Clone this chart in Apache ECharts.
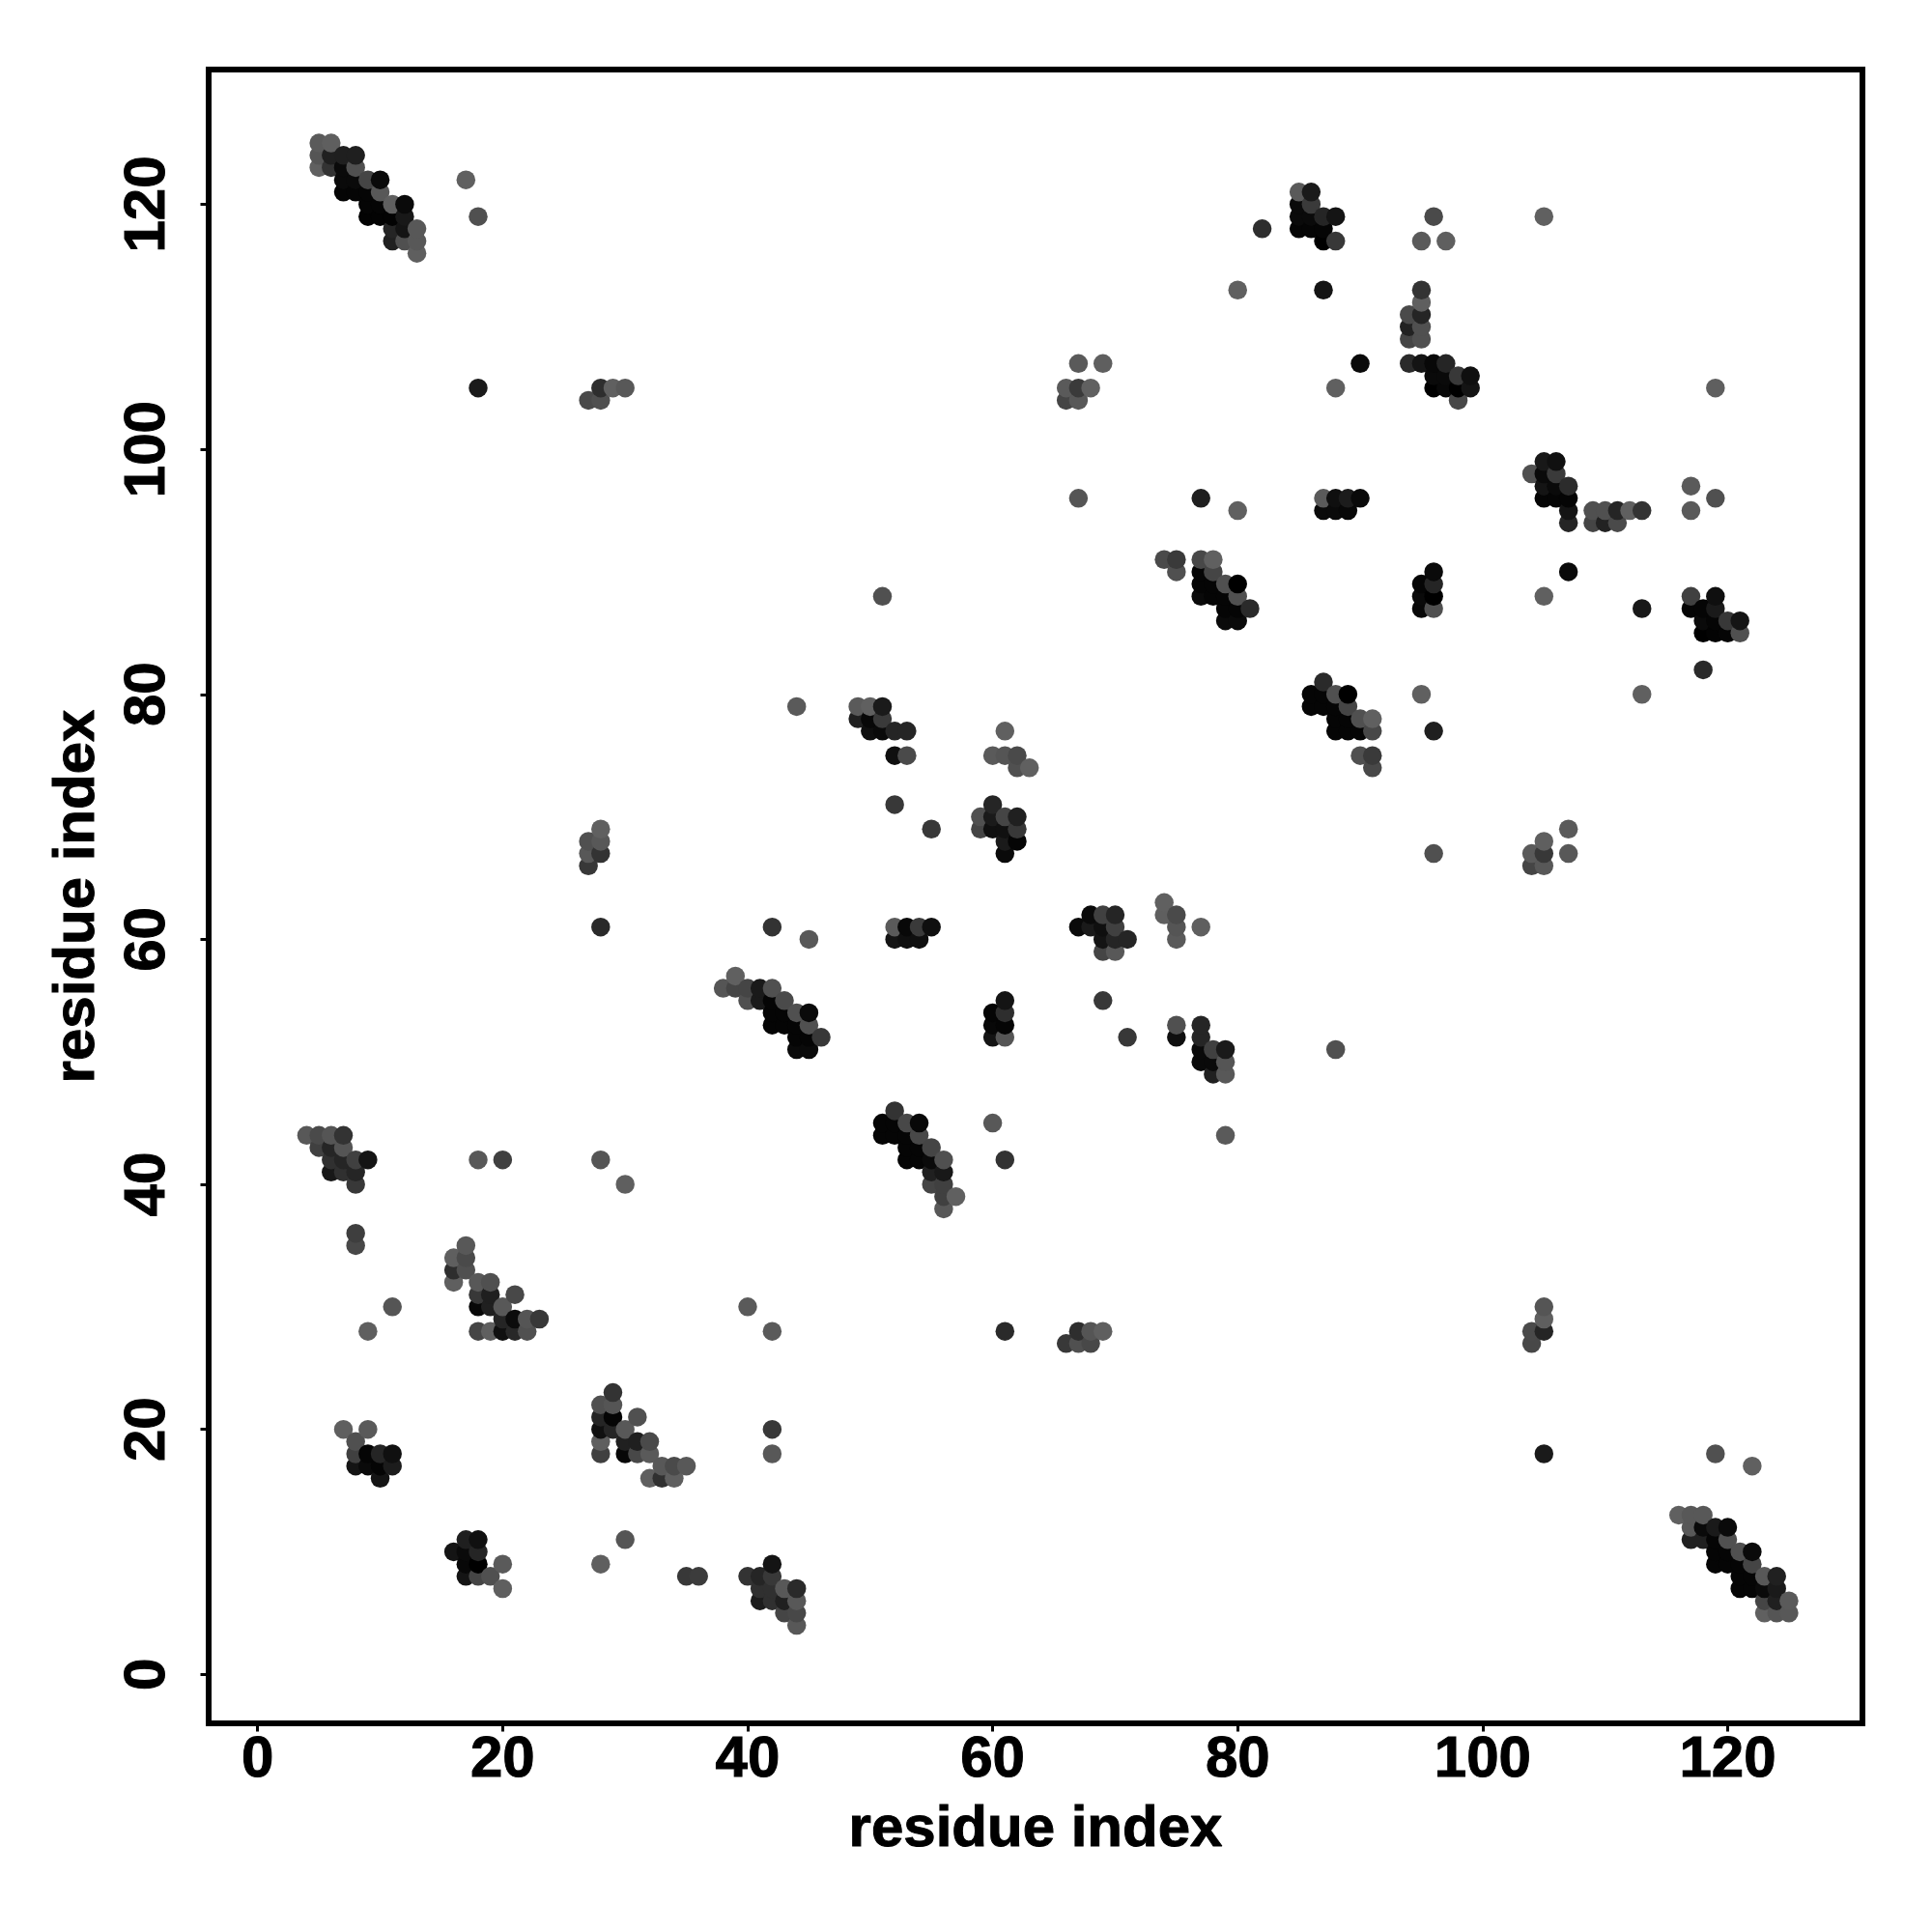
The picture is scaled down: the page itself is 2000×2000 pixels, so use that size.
<!DOCTYPE html>
<html><head><meta charset="utf-8">
<style>html,body{margin:0;padding:0;background:#fff}#c{width:2000px;height:2000px}</style>
<script src="https://cdn.jsdelivr.net/npm/echarts@6/dist/echarts.min.js"></script>
</head><body><div id="c"></div>
<script>
// Each contact: [residue x, residue y, contact strength 0..102]
const tickValues = [0,20,40,60,80,100,120];
const axisTitle = 'residue index';
const helixA = [[5,125,12],[6,125,7],[5,124,17],[6,124,70],[7,124,71],[8,124,71],[5,123,6],[6,123,51],[7,123,92],[8,123,22],[7,122,92],[8,122,92],[9,122,33],[10,122,92],[7,121,97],[8,121,97],[9,121,97],[10,121,14],[9,120,97],[10,120,97],[11,120,7],[12,120,92],[9,119,99],[10,119,99],[11,119,99],[12,119,78],[11,118,65],[12,118,82],[13,118,14],[11,117,70],[12,117,22],[13,117,14],[13,116,7]];
const helixAMirror = [[116,13,6],[117,13,14],[118,13,14],[117,12,14],[118,12,92],[119,12,76],[120,12,92],[117,11,70],[118,11,70],[119,11,97],[120,11,22],[119,10,97],[120,10,97],[121,10,22],[122,10,92],[119,9,97],[120,9,97],[121,9,97],[122,9,33],[121,8,97],[122,8,97],[123,8,14],[124,8,70],[121,7,97],[122,7,97],[123,7,92],[124,7,76],[123,6,33],[124,6,70],[125,6,12],[123,5,6],[124,5,17],[125,5,14]];
const upperLeftSingles = [[17,122,6],[18,119,22],[18,105,76],[28,105,56],[29,105,6],[30,105,14],[27,104,28],[28,104,22]];
const upperMiddle = [[67,107,12],[69,107,7],[66,105,12],[67,105,44],[68,105,6],[66,104,33],[67,104,14],[67,96,17],[77,96,71],[80,95,6],[82,118,56],[80,113,6],[87,113,82],[51,88,22]];
const block74to81 = [[74,91,28],[75,91,44],[75,90,22],[77,91,30],[78,91,6],[77,90,97],[78,90,33],[77,89,97],[78,89,97],[79,89,22],[80,89,102],[77,88,92],[78,88,97],[79,88,97],[80,88,22],[79,87,97],[80,87,97],[81,87,60],[79,86,92],[80,86,92]];
const block86to91 = [[87,81,60],[86,80,97],[87,80,97],[88,80,22],[89,80,102],[86,79,97],[87,79,97],[88,79,97],[89,79,33],[88,78,97],[89,78,97],[90,78,22],[91,78,6],[88,77,97],[89,77,97],[90,77,97],[91,77,30],[90,75,22],[91,75,44],[91,74,30]];
const block85to88 = [[85,121,12],[86,121,76],[85,120,92],[86,120,44],[85,119,92],[86,119,92],[87,119,65],[88,119,82],[85,118,97],[86,118,97],[87,118,97],[87,117,102],[88,117,46]];
const block117to121 = [[117,88,38],[119,88,87],[117,87,97],[118,87,97],[119,87,76],[118,86,92],[119,86,97],[120,86,46],[121,86,82],[118,85,102],[119,85,99],[120,85,97],[121,85,22]];
const column94to99 = [[96,119,28],[105,119,6],[95,117,12],[97,117,7],[95,113,51],[95,112,7],[94,111,28],[95,111,65],[94,110,68],[95,110,22],[94,109,33],[95,109,22],[90,107,92],[94,107,60],[95,107,82],[96,107,94],[97,107,65],[96,106,92],[97,106,92],[98,106,46],[99,106,87],[88,105,6],[96,105,102],[97,105,94],[98,105,102],[99,105,82],[98,104,30],[119,105,7]];
const block104to107 = [[105,99,78],[106,99,86],[104,98,22],[105,98,92],[106,98,44],[105,97,82],[106,97,92],[107,97,58],[105,96,97],[106,96,97],[107,96,97],[107,95,82],[107,94,65]];
const row109to113 = [[109,95,22],[110,95,22],[111,95,65],[112,95,6],[113,95,51],[109,94,33],[110,94,68],[111,94,28],[117,97,12],[119,96,22],[117,95,12]];
const block87to90 = [[87,96,12],[88,96,87],[89,96,74],[90,96,92],[87,95,92],[88,95,92],[89,95,94]];
const block95to96 = [[96,90,92],[95,89,97],[96,89,65],[95,88,92],[96,88,102],[95,87,94],[96,87,22]];
const rightSingles = [[113,87,78],[118,82,60],[105,88,6],[107,90,92],[95,80,6],[113,80,6],[96,77,71],[96,67,22],[88,51,22]];
const block104to107Low = [[105,68,7],[105,67,46],[105,66,14],[104,67,12],[104,66,33],[107,69,12],[107,67,14]];
const block49to53 = [[44,79,12],[49,79,12],[50,79,6],[51,79,76],[49,78,70],[50,78,94],[51,78,44],[50,77,87],[51,77,92],[52,77,65],[53,77,65],[52,75,87],[53,75,28],[52,71,46],[55,69,46]];
const block59to63 = [[61,77,6],[60,75,12],[61,75,17],[62,75,28],[62,74,22],[63,74,6],[60,71,65],[59,70,22],[60,70,76],[61,70,33],[62,70,70],[59,69,33],[60,69,86],[61,69,86],[62,69,46],[61,68,76],[62,68,97],[61,67,92]];
const row52to55 = [[42,61,51],[45,60,14],[52,61,12],[53,61,94],[54,61,44],[55,61,87],[52,60,82],[53,60,87],[54,60,87]];
const block67to71 = [[67,61,92],[68,62,92],[68,61,76],[69,62,38],[70,62,65],[69,61,87],[70,61,38],[69,60,82],[70,60,65],[71,60,65],[69,59,33],[70,59,14]];
const block74to77 = [[74,63,6],[74,62,7],[75,62,28],[75,61,17],[75,60,12],[77,61,7]];
const block60to61 = [[61,55,82],[60,54,97],[61,54,56],[60,53,94],[61,53,97],[60,52,82],[61,52,17]];
const block69to79 = [[69,55,46],[71,52,46],[75,53,22],[75,52,87],[77,53,65],[77,52,65],[77,51,92],[78,51,38],[79,51,76],[77,50,92],[78,50,92],[79,50,17],[78,49,70],[79,49,14],[79,44,12],[60,45,14],[61,42,51]];
const block38to46 = [[39,57,6],[38,56,17],[39,56,33],[40,56,33],[41,56,76],[42,56,22],[40,55,22],[41,55,76],[42,55,97],[43,55,28],[42,54,97],[43,54,97],[44,54,22],[45,54,92],[42,53,97],[43,53,97],[44,53,97],[45,53,22],[44,52,97],[45,52,97],[46,52,46],[44,51,92],[45,51,92]];
const block51to57 = [[52,46,51],[51,45,97],[52,45,97],[53,45,30],[54,45,94],[51,44,97],[52,44,97],[53,44,97],[54,44,30],[53,43,97],[54,43,97],[55,43,33],[53,42,97],[54,42,97],[55,42,92],[56,42,22],[55,41,70],[56,41,78],[55,40,33],[56,40,38],[56,39,38],[57,39,6],[56,38,14]];
const block27to28 = [[28,69,6],[28,68,14],[27,68,22],[27,67,14],[28,67,51],[27,66,46],[28,61,60]];
const block4to9 = [[4,44,14],[5,44,28],[6,44,17],[7,44,51],[5,43,38],[6,43,65],[7,43,17],[6,42,54],[7,42,65],[8,42,38],[9,42,82],[6,41,78],[7,41,54],[8,41,65],[8,40,46],[8,36,40],[8,35,30]];
const leftSingles = [[18,42,14],[20,42,38],[28,42,17],[30,40,7],[11,30,17],[9,28,7],[40,30,12],[42,28,12]];
const block16to23 = [[17,35,14],[16,34,7],[17,34,28],[16,33,56],[17,33,22],[16,32,7],[18,32,14],[19,32,22],[18,31,46],[19,31,71],[21,31,30],[18,30,94],[19,30,70],[20,30,14],[20,29,65],[21,29,90],[22,29,17],[23,29,46],[18,28,33],[19,28,7],[20,28,86],[21,28,62],[22,28,22]];
const block28to35 = [[29,23,51],[28,22,22],[29,22,17],[28,21,65],[29,21,97],[31,21,22],[28,20,86],[29,20,65],[30,20,14],[28,19,7],[28,18,38],[30,19,70],[31,19,71],[32,19,28],[30,18,94],[31,18,30],[32,18,12],[33,17,14],[34,17,28],[35,17,14],[32,16,7],[33,16,54],[34,16,7]];
const block7to11 = [[7,20,7],[9,20,12],[8,19,22],[8,18,38],[9,18,97],[10,18,65],[11,18,86],[8,17,82],[9,17,92],[10,17,97],[11,17,74],[10,16,82]];
const block16to20 = [[17,11,71],[18,11,86],[16,10,82],[17,10,92],[18,10,65],[17,9,94],[18,9,102],[20,9,12],[17,8,82],[18,8,33],[19,8,22],[20,7,7]];
const lowerSingles = [[30,11,17],[28,9,7],[35,8,46],[36,8,42],[40,8,51]];
const block41to44 = [[42,9,82],[41,8,65],[42,8,46],[41,7,54],[42,7,54],[43,7,14],[44,7,60],[41,6,74],[42,6,54],[43,6,70],[44,6,14],[43,5,33],[44,5,30],[44,4,14]];
const row27to28 = [[67,28,56],[68,28,17],[69,28,7],[66,27,46],[67,27,22],[68,27,30],[61,28,60],[42,20,46],[42,18,14]];
const lowerRight = [[105,30,17],[105,29,7],[104,28,28],[105,28,65],[104,27,30],[105,18,76],[119,18,22],[122,17,6]];

const contacts = [].concat(helixA,helixAMirror,upperLeftSingles,upperMiddle,block74to81,block86to91,block85to88,block117to121,column94to99,block104to107,row109to113,block87to90,block95to96,rightSingles,block104to107Low,block49to53,block59to63,row52to55,block67to71,block74to77,block60to61,block69to79,block38to46,block51to57,block27to28,block4to9,leftSingles,block16to23,block28to35,block7to11,block16to20,lowerSingles,block41to44,row27to28,lowerRight)
  .sort((a,b)=>a[0]-b[0]||a[1]-b[1]);

const font = {fontFamily:'Liberation Sans',fontWeight:'bold',fontSize:60,color:'#000',textBorderColor:'#000',textBorderWidth:1};
function axis(extra){
  return Object.assign({
    type:'value',min:-4,max:131,
    name:axisTitle,nameLocation:'middle',nameTextStyle:font,
    splitLine:{show:false},
    axisLine:{show:false,onZero:false},
    axisTick:{show:true,length:8.5,lineStyle:{color:'#000',width:3},customValues:tickValues},
  },extra);
}
const chart = echarts.init(document.getElementById('c'),null,{renderer:'canvas'});
chart.setOption({
  animation:false,
  backgroundColor:'#fff',
  grid:{left:216,right:72,top:72,bottom:216,show:true,borderColor:'#000',borderWidth:6,backgroundColor:'transparent'},
  xAxis:axis({nameGap:80,axisLabel:Object.assign({},font,{margin:8,customValues:tickValues,showMinLabel:true,showMaxLabel:true})}),
  yAxis:axis({nameGap:106,axisLabel:Object.assign({},font,{margin:33,rotate:90,customValues:tickValues,showMinLabel:true,showMaxLabel:true})}),
  visualMap:{show:false,type:'continuous',seriesIndex:0,dimension:2,min:0,max:102,inRange:{color:['#666666','#000000']}},
  series:[{type:'scatter',symbol:'circle',symbolSize:19.5,data:contacts,clip:false,silent:true,z:5,itemStyle:{opacity:1}}]
});
</script></body></html>
